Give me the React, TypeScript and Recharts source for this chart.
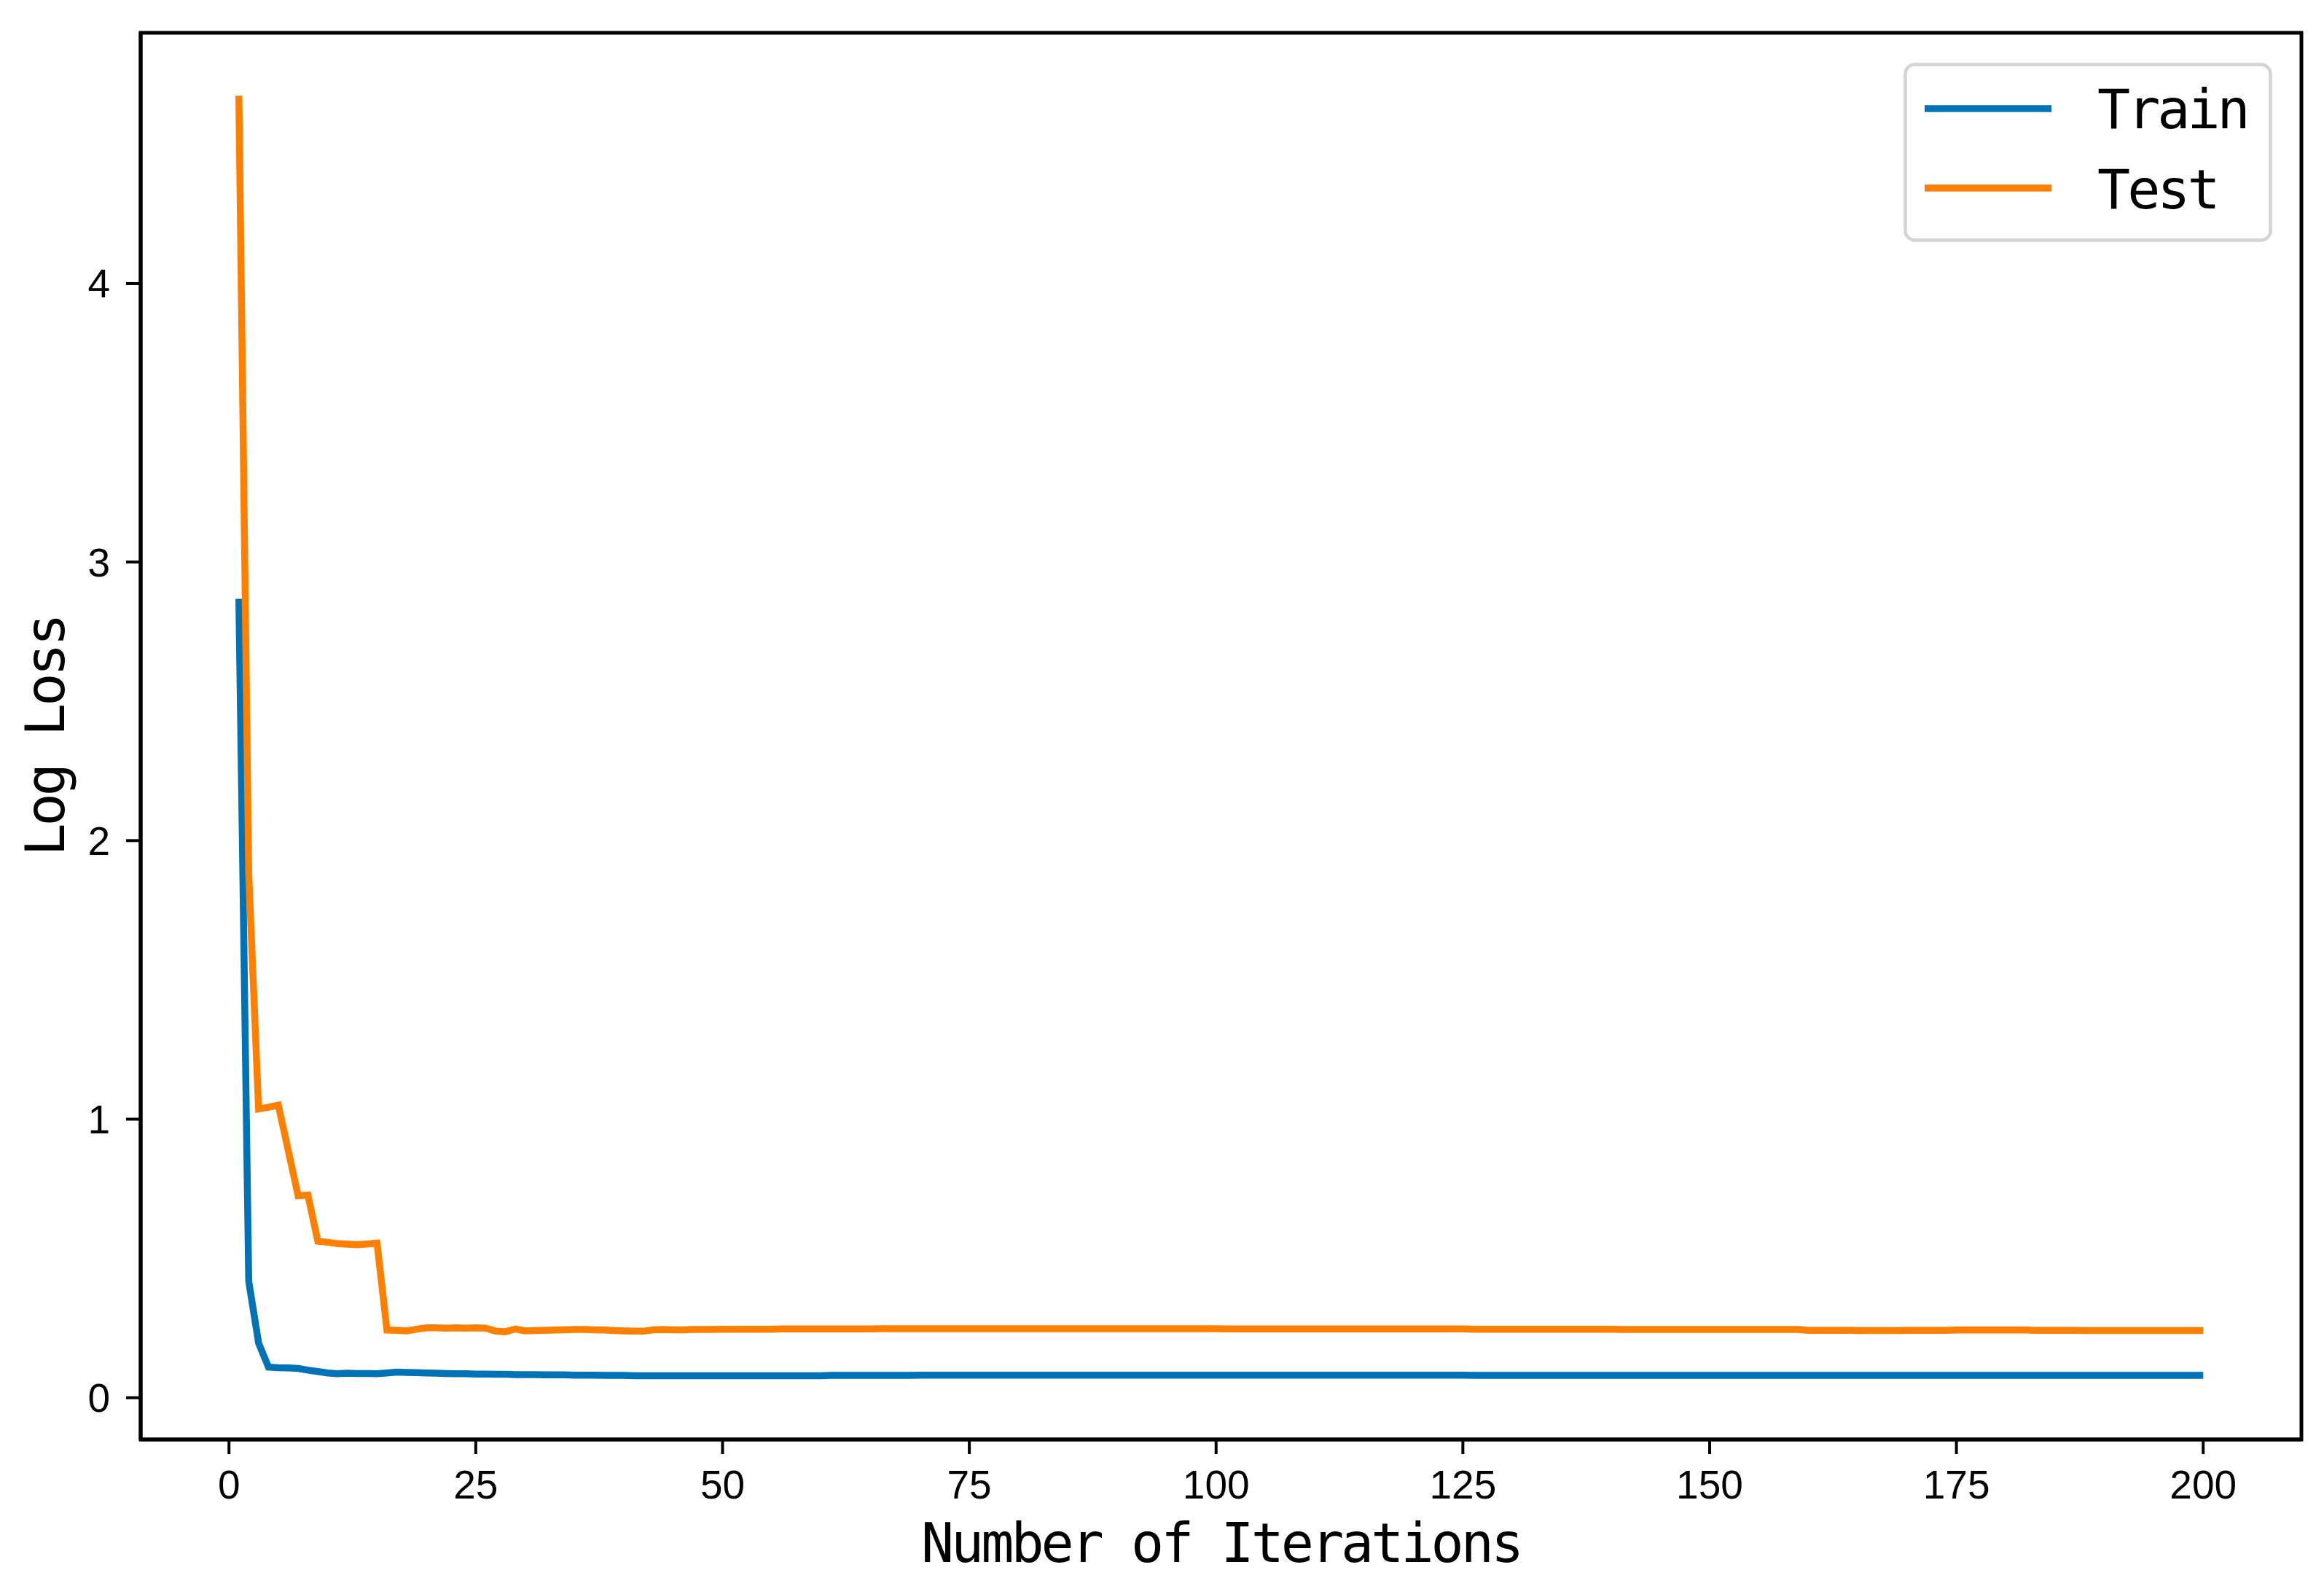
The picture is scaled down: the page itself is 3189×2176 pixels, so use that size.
import React from "react";
import {
  LineChart,
  Line,
  XAxis,
  YAxis,
  Legend,
  ReferenceArea,
} from "recharts";

// iterations 1..200
const iterations: number[] = Array.from({ length: 200 }, (_, i) => i + 1);

// train log loss
const trainLoss: number[] = [
  2.868, 0.418, 0.196, 0.11, 0.108, 0.107, 0.105, 0.099, 0.094, 0.089,
  0.086, 0.088, 0.087, 0.087, 0.086, 0.089, 0.092, 0.091, 0.09, 0.089,
  0.088, 0.087, 0.086, 0.086, 0.085, 0.085, 0.084, 0.084, 0.083, 0.083,
  0.083, 0.082, 0.082, 0.082, 0.081, 0.081, 0.081, 0.08, 0.08, 0.08,
  0.079, 0.079, 0.079, 0.079, 0.079, 0.079, 0.079, 0.079, 0.079, 0.079,
  0.079, 0.079, 0.079, 0.079, 0.079, 0.079, 0.079, 0.079, 0.079, 0.079,
  0.08, 0.08, 0.08, 0.08, 0.08, 0.08, 0.08, 0.08, 0.08, 0.081,
  0.081, 0.081, 0.081, 0.081, 0.081, 0.081, 0.081, 0.081, 0.081, 0.081,
  0.081, 0.081, 0.081, 0.081, 0.081, 0.081, 0.081, 0.081, 0.081, 0.081,
  0.081, 0.081, 0.081, 0.081, 0.081, 0.081, 0.081, 0.081, 0.081, 0.081,
  0.081, 0.081, 0.081, 0.081, 0.081, 0.081, 0.081, 0.081, 0.081, 0.081,
  0.081, 0.081, 0.081, 0.081, 0.081, 0.081, 0.081, 0.081, 0.081, 0.081,
  0.081, 0.081, 0.081, 0.081, 0.081, 0.08, 0.08, 0.08, 0.08, 0.08,
  0.08, 0.08, 0.08, 0.08, 0.08, 0.08, 0.08, 0.08, 0.08, 0.08,
  0.08, 0.08, 0.08, 0.08, 0.08, 0.08, 0.08, 0.08, 0.08, 0.08,
  0.08, 0.08, 0.08, 0.08, 0.08, 0.08, 0.08, 0.08, 0.08, 0.08,
  0.08, 0.08, 0.08, 0.08, 0.08, 0.08, 0.08, 0.08, 0.08, 0.08,
  0.08, 0.08, 0.08, 0.08, 0.08, 0.08, 0.08, 0.08, 0.08, 0.08,
  0.08, 0.08, 0.08, 0.08, 0.08, 0.08, 0.08, 0.08, 0.08, 0.08,
  0.08, 0.08, 0.08, 0.08, 0.08, 0.08, 0.08, 0.08, 0.08, 0.08,
];

// test log loss
const testLoss: number[] = [
  4.674, 1.88, 1.037, 1.043, 1.05, 0.888, 0.725, 0.727, 0.562, 0.558,
  0.553, 0.551, 0.549, 0.552, 0.555, 0.243, 0.242, 0.24, 0.246, 0.251,
  0.251, 0.25, 0.251, 0.25, 0.251, 0.25, 0.239, 0.237, 0.247, 0.24,
  0.241, 0.242, 0.243, 0.244, 0.245, 0.245, 0.244, 0.243, 0.241, 0.24,
  0.239, 0.239, 0.244, 0.245, 0.244, 0.244, 0.245, 0.245, 0.245, 0.246,
  0.246, 0.246, 0.246, 0.246, 0.246, 0.247, 0.247, 0.247, 0.247, 0.247,
  0.247, 0.247, 0.247, 0.247, 0.247, 0.248, 0.248, 0.248, 0.248, 0.248,
  0.248, 0.248, 0.248, 0.248, 0.248, 0.248, 0.248, 0.248, 0.248, 0.248,
  0.248, 0.248, 0.248, 0.248, 0.248, 0.248, 0.248, 0.248, 0.248, 0.248,
  0.248, 0.248, 0.248, 0.248, 0.248, 0.248, 0.248, 0.248, 0.248, 0.248,
  0.247, 0.247, 0.247, 0.247, 0.247, 0.247, 0.247, 0.247, 0.247, 0.247,
  0.247, 0.247, 0.247, 0.247, 0.247, 0.247, 0.247, 0.247, 0.247, 0.247,
  0.247, 0.247, 0.247, 0.247, 0.247, 0.246, 0.246, 0.246, 0.246, 0.246,
  0.246, 0.246, 0.246, 0.246, 0.246, 0.246, 0.246, 0.246, 0.246, 0.246,
  0.245, 0.245, 0.245, 0.245, 0.245, 0.245, 0.245, 0.245, 0.245, 0.245,
  0.245, 0.245, 0.245, 0.245, 0.245, 0.245, 0.245, 0.245, 0.245, 0.242,
  0.242, 0.242, 0.242, 0.242, 0.241, 0.241, 0.241, 0.241, 0.241, 0.242,
  0.242, 0.242, 0.242, 0.242, 0.243, 0.243, 0.243, 0.243, 0.243, 0.243,
  0.243, 0.243, 0.242, 0.242, 0.242, 0.242, 0.242, 0.241, 0.241, 0.241,
  0.241, 0.241, 0.241, 0.241, 0.241, 0.241, 0.241, 0.241, 0.241, 0.241,
];

const xTicks = [0, 25, 50, 75, 100, 125, 150, 175, 200];
const yTicks = [0, 1, 2, 3, 4];
const xDomain: [number, number] = [-8.95, 209.95];
const yDomain: [number, number] = [-0.15, 4.9];

const TRAIN_COLOR = "#0072b5";
const TEST_COLOR = "#ff8000";
const TICK_FONT = "'Liberation Sans Narrow', 'Liberation Sans', Arial, sans-serif";
const LABEL_FONT = "'DejaVu Sans Mono', 'Liberation Mono', monospace";

const chartData = iterations.map((it, i) => ({
  iter: it,
  train: trainLoss[i],
  test: testLoss[i],
}));

const LegendBox = () => (
  <svg width={506} height={246} style={{ display: "block" }}>
    <rect
      x={2.5}
      y={2.5}
      width={501}
      height={241}
      rx={13}
      fill="#fff"
      stroke="#d4d4d4"
      strokeWidth={4.5}
    />
    <line x1={29} x2={203} y1={63} y2={63} stroke={TRAIN_COLOR} strokeWidth={9.5} />
    <line x1={29} x2={203} y1={172} y2={172} stroke={TEST_COLOR} strokeWidth={9.5} />
    <text x={266} y={90} fontSize={75} fontFamily={LABEL_FONT} letterSpacing={-4} fill="#000">
      Train
    </text>
    <text x={266} y={200} fontSize={75} fontFamily={LABEL_FONT} letterSpacing={-4} fill="#000">
      Test
    </text>
  </svg>
);

export default function App() {
  return (
    <div style={{ position: "absolute", left: 0, top: 0, background: "#fff" }}>
      <LineChart
        width={3189}
        height={2176}
        data={chartData}
        margin={{ top: 45, right: 31, left: 0, bottom: 0 }}
      >
        <XAxis
          dataKey="iter"
          type="number"
          domain={xDomain}
          ticks={xTicks}
          allowDataOverflow
          height={201}
          tickSize={20}
          tickMargin={22}
          axisLine={{ stroke: "#000", strokeWidth: 5 }}
          tickLine={{ stroke: "#000", strokeWidth: 4 }}
          tick={{ fontSize: 55, fill: "#000", fontFamily: TICK_FONT }}
          label={(props: any) => {
            const vb = props.viewBox || { x: 193, y: 1975, width: 2966, height: 201 };
            return (
              <text
                x={vb.x + vb.width / 2}
                y={2143}
                textAnchor="middle"
                fontSize={75}
                fontFamily={LABEL_FONT}
                letterSpacing={-4}
                fill="#000"
              >
                Number of Iterations
              </text>
            );
          }}
        />
        <YAxis
          type="number"
          domain={yDomain}
          ticks={yTicks}
          allowDataOverflow
          width={193}
          tickSize={20}
          tickMargin={22}
          axisLine={{ stroke: "#000", strokeWidth: 5 }}
          tickLine={{ stroke: "#000", strokeWidth: 4 }}
          tick={{ fontSize: 55, fill: "#000", fontFamily: TICK_FONT }}
          label={(props: any) => {
            const vb = props.viewBox || { x: 0, y: 45, width: 193, height: 1930 };
            const cy = vb.y + vb.height / 2;
            return (
              <text
                x={88}
                y={cy}
                transform={`rotate(-90 88 ${cy})`}
                textAnchor="middle"
                fontSize={75}
                fontFamily={LABEL_FONT}
                letterSpacing={-4}
                fill="#000"
              >
                Log Loss
              </text>
            );
          }}
        />
        <ReferenceArea
          x1={xDomain[0]}
          x2={xDomain[1]}
          y1={yDomain[0]}
          y2={yDomain[1]}
          fill="none"
          fillOpacity={0}
          stroke="#000"
          strokeWidth={5}
          ifOverflow="visible"
        />
        <Line
          type="linear"
          dataKey="train"
          name="Train"
          stroke={TRAIN_COLOR}
          strokeWidth={9.5}
          dot={false}
          isAnimationActive={false}
        />
        <Line
          type="linear"
          dataKey="test"
          name="Test"
          stroke={TEST_COLOR}
          strokeWidth={9.5}
          dot={false}
          isAnimationActive={false}
        />
        <Legend
          layout="vertical"
          align="center"
          verticalAlign="middle"
          content={() => <LegendBox />}
          wrapperStyle={{ position: "absolute", left: 2612, top: 86, width: 506, height: 246 }}
        />
      </LineChart>
    </div>
  );
}
